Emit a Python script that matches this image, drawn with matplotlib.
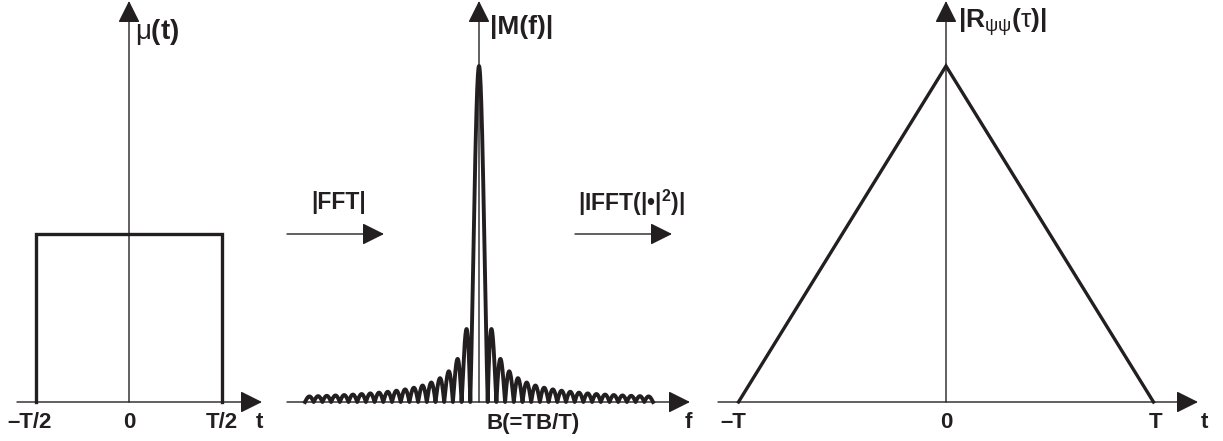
import numpy as np
import matplotlib
matplotlib.use("Agg")
import matplotlib.pyplot as plt

plt.rcParams['font.family'] = ['Liberation Sans', 'DejaVu Sans']
plt.rcParams['mathtext.fontset'] = 'custom'
plt.rcParams['mathtext.rm'] = 'Liberation Sans:normal'
plt.rcParams['mathtext.bf'] = 'Liberation Sans:bold'
plt.rcParams['mathtext.it'] = 'Liberation Sans:italic'

# pulse mu(t), T = 1
T = 1.0
rect_t = [-T / 2, -T / 2, T / 2, T / 2]
rect_v = [0, 1, 1, 0]

# |FFT| of the pulse (zero padded), shown over 20 lobes each side
n_pulse = 200
pad = 64
lobes = 20

# |R(tau)| triangle
tri_tau = [-T, 0, T]
tri_v = [0, 1, 0]

signal = np.zeros(n_pulse * pad)
signal[:n_pulse] = 1.0
spec = np.abs(np.fft.fftshift(np.fft.fft(signal)))
freq = (np.arange(len(signal)) - len(signal) // 2) / pad
keep = np.abs(freq) <= lobes
freq, spec = freq[keep], spec[keep]
peak = spec.max()

W, H = 1223, 441
col = '#231f20'
fig = plt.figure(figsize=(W / 100, H / 100), dpi=100)


def panel(x0, x1, xc, xunit, yunit):
    # axes over pixel columns x0..x1, origin at (xc, 402)
    ax = fig.add_axes([x0 / W, 0, (x1 - x0) / W, 1])
    ax.set_xlim((x0 - xc) / xunit, (x1 - xc) / xunit)
    ax.set_ylim(-(H - 402) / yunit, 402 / yunit)
    ax.axis('off')
    ax.patch.set_alpha(0)
    return ax


def axis_arrow(ax, start, end):
    ax.annotate('', xy=end, xytext=start,
                arrowprops=dict(arrowstyle='-|>,head_length=0.9,head_width=0.45',
                                mutation_scale=15, color=col, lw=1,
                                shrinkA=0, shrinkB=0), annotation_clip=False)


# left: mu(t)
ax1 = panel(0, 270, 129, 186, 168)
axis_arrow(ax1, ((17 - 129) / 186, 0), ((262 - 129) / 186, 0))
axis_arrow(ax1, (0, 0), (0, 401 / 168))
ax1.plot(rect_t, rect_v, color=col, lw=2.4, solid_joinstyle='miter')

# middle: |M(f)|
yu = 336 / peak
ax2 = panel(280, 700, 479, 8.7, yu)
axis_arrow(ax2, ((287 - 479) / 8.7, 0), ((690 - 479) / 8.7, 0))
axis_arrow(ax2, (0, 0), (0, 401 / yu))
ax2.plot(freq, spec, color=col, lw=2.8)

# right: |R(tau)|
ax3 = panel(705, 1223, 946, 207.5, 336)
axis_arrow(ax3, ((718 - 946) / 207.5, 0), ((1198 - 946) / 207.5, 0))
axis_arrow(ax3, (0, 0), (0, 401 / 336))
ax3.plot(tri_tau, tri_v, color=col, lw=2.4, solid_joinstyle='miter')

# arrows between panels
for xs, xe in [(287, 384), (575, 672)]:
    fig.patches.append(matplotlib.patches.FancyArrowPatch(
        (xs / W, 1 - 234 / H), (xe / W, 1 - 234 / H), transform=fig.transFigure,
        arrowstyle='-|>,head_length=0.9,head_width=0.45', mutation_scale=15,
        color=col, lw=1, shrinkA=0, shrinkB=0))


def ftext(x, y, s, size, ha='center', va='center'):
    fig.text(x / W, 1 - y / H, s, fontsize=size, ha=ha, va=va, color=col,
             fontweight='bold')


# labels
ftext(135, 17, r'$\mathrm{\mu}\mathbf{(t)}$', 20, ha='left', va='top')
ftext(490, 15, '|M(f)|', 19, ha='left', va='top')
ftext(958, 6, r'$\mathbf{|R}_{\mathrm{\psi\psi}}\mathbf{(}\mathrm{\tau}\mathbf{)|}$', 19,
      ha='left', va='top')
ftext(339, 203, '|FFT|', 16.5)
ftext(632, 203, r'$\mathbf{|IFFT(|•|}^{\mathbf{2}}\mathbf{)|}$', 16.5)

# tick labels
ticks = [(30, '–T/2'), (129, '0'), (222, 'T/2'), (259, 't'),
         (533, 'B(=TB/T)'), (688, 'f'),
         (733, '–T'), (946, '0'), (1156, 'T'), (1204, 't')]
for x, s in ticks:
    ftext(x, 423, s, 16)

fig.savefig('out.png', dpi=100)
